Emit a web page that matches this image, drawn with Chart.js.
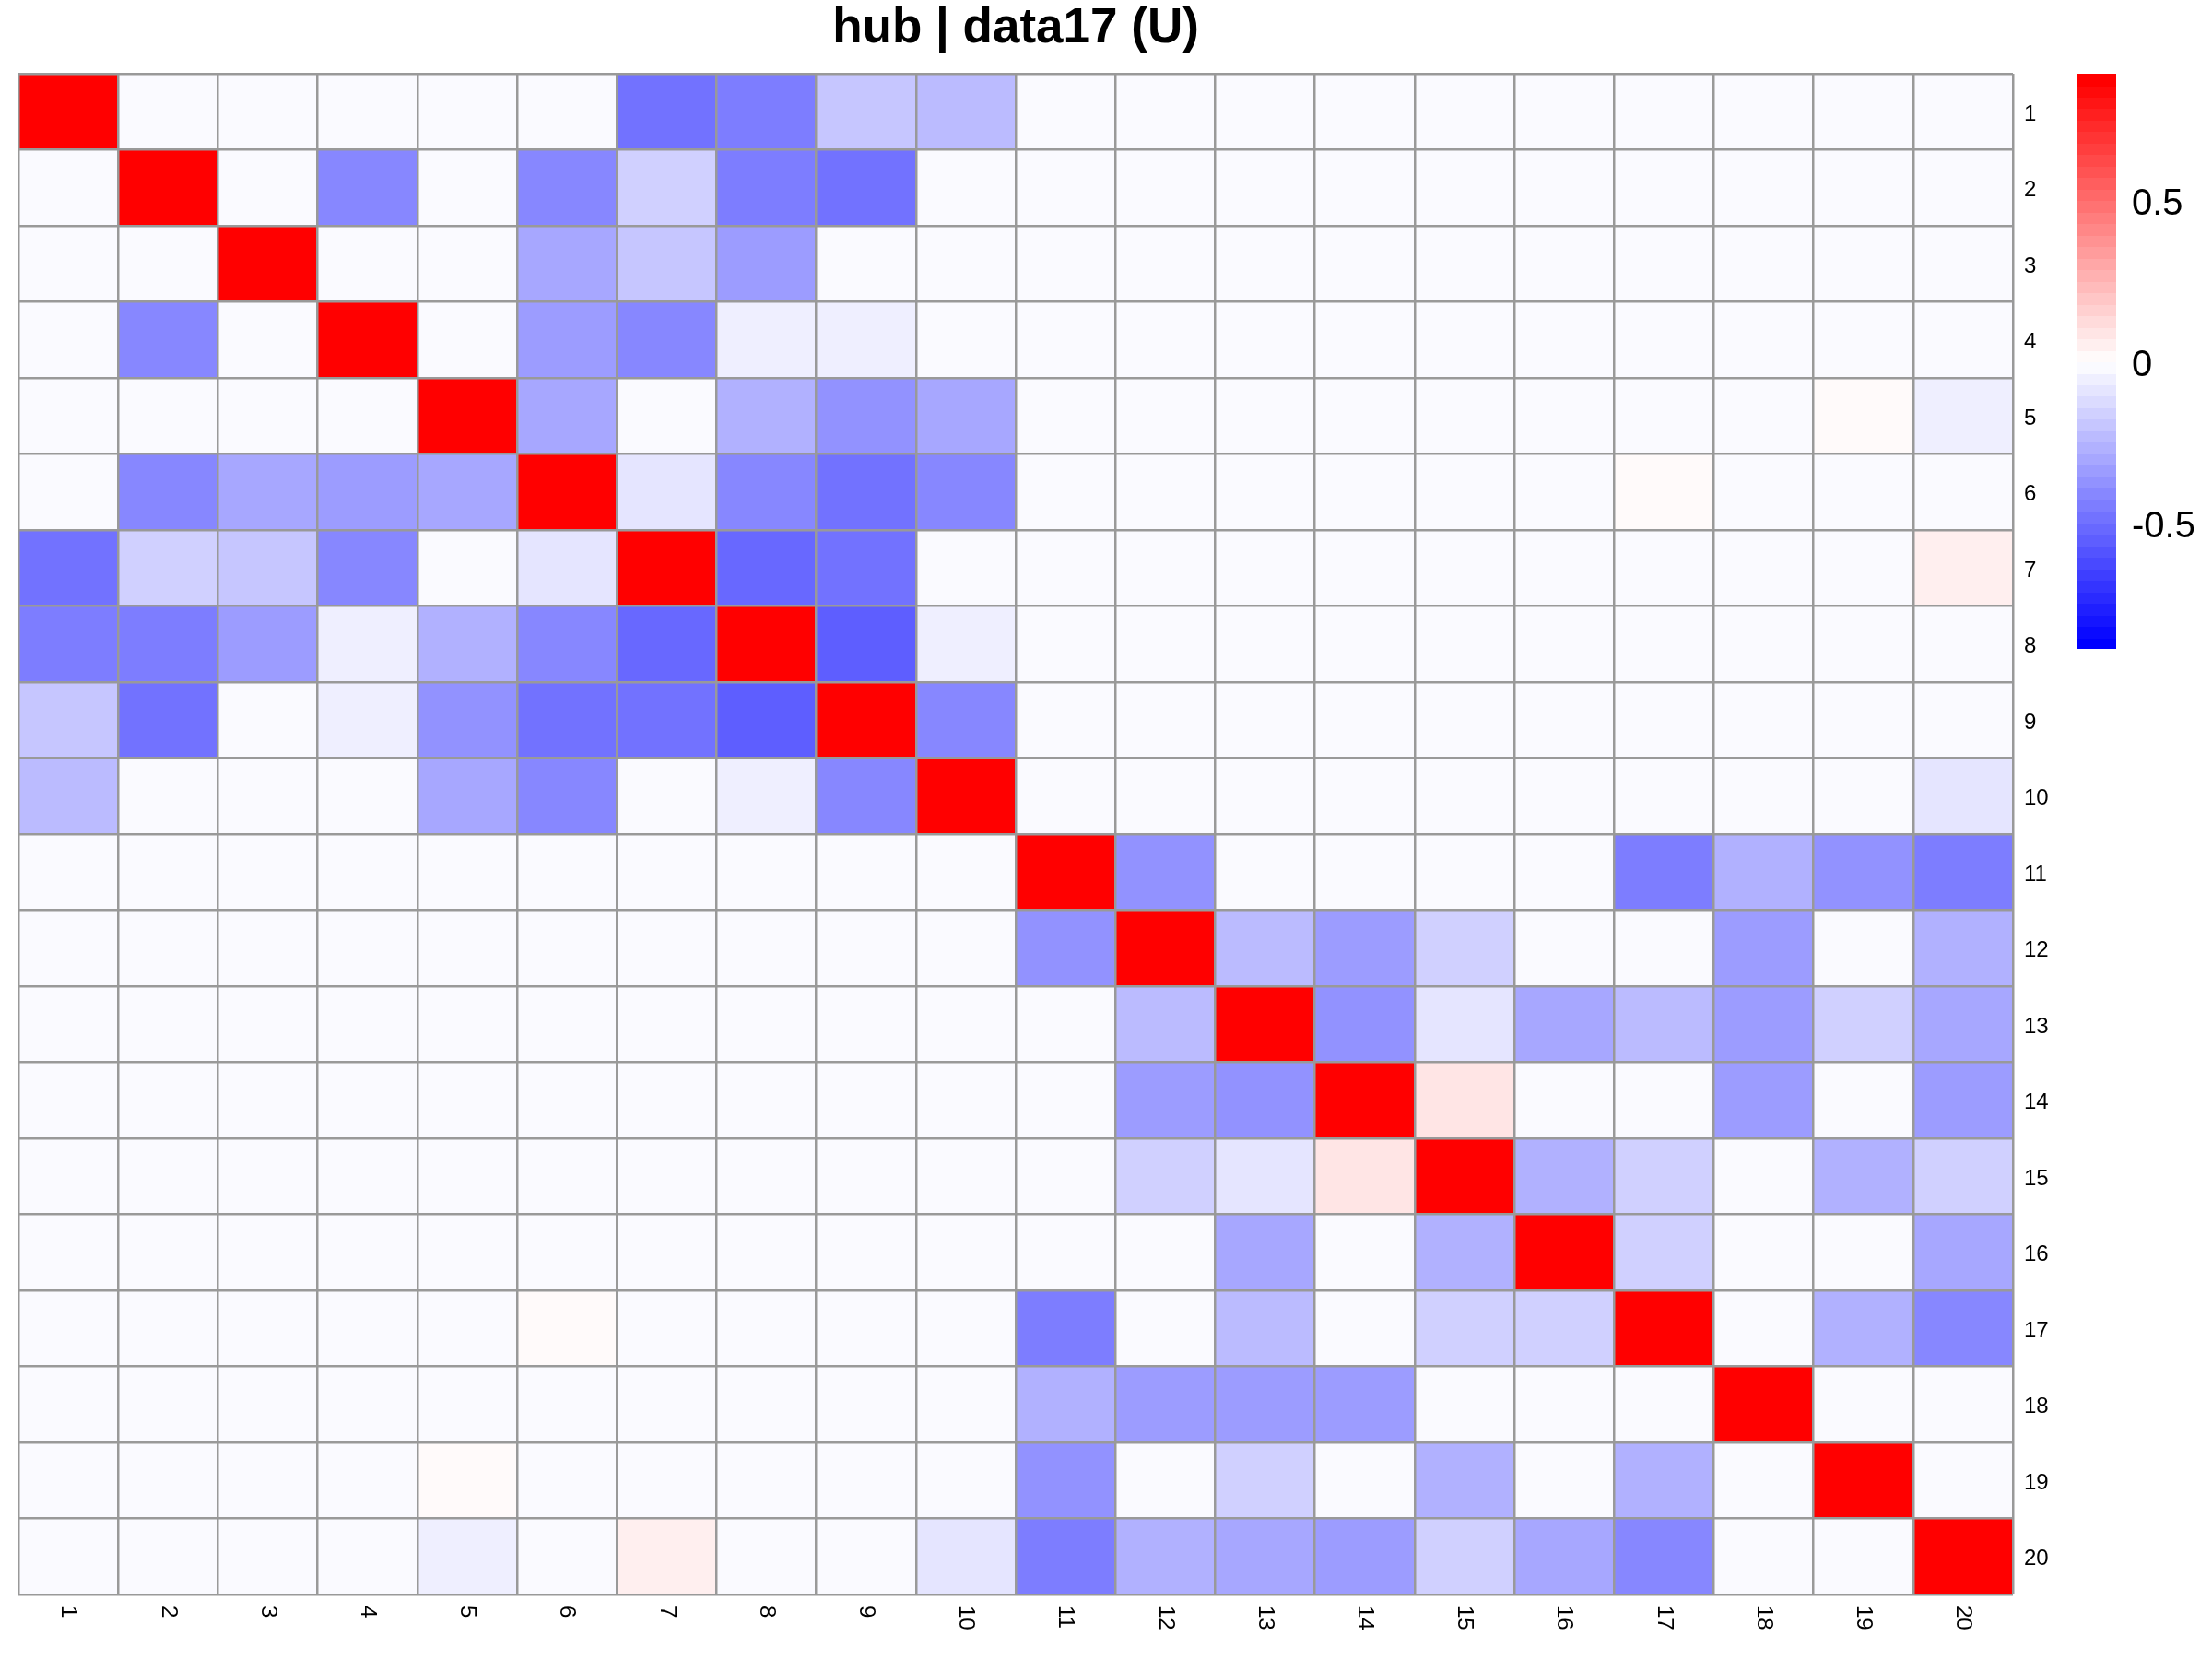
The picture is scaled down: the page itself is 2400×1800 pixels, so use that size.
<!DOCTYPE html>
<html>
<head>
<meta charset="utf-8">
<title>hub | data17 (U)</title>
<script src="https://cdn.jsdelivr.net/npm/chart.js@4.4.1/dist/chart.umd.min.js"></script>
<style>
  html, body { margin: 0; padding: 0; background: #ffffff; }
  #c { display: block; }
</style>
</head>
<body>
<canvas id="c" width="2400" height="1800"></canvas>
<script>
// ---------------- data ----------------
const chartTitle = 'hub | data17 (U)';
const rowLabels = ['1','2','3','4','5','6','7','8','9','10','11','12','13','14','15','16','17','18','19','20'];
const colLabels = ['1','2','3','4','5','6','7','8','9','10','11','12','13','14','15','16','17','18','19','20'];

const r01 = [ 0.89, 0, 0, 0, 0, 0, -0.48, -0.45, -0.20, -0.23, 0, 0, 0, 0, 0, 0, 0, 0, 0, 0];
const r02 = [ 0, 0.89, 0, -0.41, 0, -0.41, -0.16, -0.45, -0.48, 0, 0, 0, 0, 0, 0, 0, 0, 0, 0, 0];
const r03 = [ 0, 0, 0.89, 0, 0, -0.30, -0.20, -0.34, 0, 0, 0, 0, 0, 0, 0, 0, 0, 0, 0, 0];
const r04 = [ 0, -0.41, 0, 0.89, 0, -0.34, -0.41, -0.05, -0.05, 0, 0, 0, 0, 0, 0, 0, 0, 0, 0, 0];
const r05 = [ 0, 0, 0, 0, 0.89, -0.30, 0, -0.27, -0.37, -0.30, 0, 0, 0, 0, 0, 0, 0, 0, 0.02, -0.05];
const r06 = [ 0, -0.41, -0.30, -0.34, -0.30, 0.89, -0.09, -0.41, -0.48, -0.41, 0, 0, 0, 0, 0, 0, 0.02, 0, 0, 0];
const r07 = [-0.48, -0.16, -0.20, -0.41, 0, -0.09, 0.89, -0.52, -0.48, 0, 0, 0, 0, 0, 0, 0, 0, 0, 0, 0.05];
const r08 = [-0.45, -0.45, -0.34, -0.05, -0.27, -0.41, -0.52, 0.89, -0.55, -0.05, 0, 0, 0, 0, 0, 0, 0, 0, 0, 0];
const r09 = [-0.20, -0.48, 0, -0.05, -0.37, -0.48, -0.48, -0.55, 0.89, -0.41, 0, 0, 0, 0, 0, 0, 0, 0, 0, 0];
const r10 = [-0.23, 0, 0, 0, -0.30, -0.41, 0, -0.05, -0.41, 0.89, 0, 0, 0, 0, 0, 0, 0, 0, 0, -0.09];
const r11 = [ 0, 0, 0, 0, 0, 0, 0, 0, 0, 0, 0.89, -0.37, 0, 0, 0, 0, -0.45, -0.27, -0.37, -0.45];
const r12 = [ 0, 0, 0, 0, 0, 0, 0, 0, 0, 0, -0.37, 0.89, -0.23, -0.34, -0.16, 0, 0, -0.34, 0, -0.27];
const r13 = [ 0, 0, 0, 0, 0, 0, 0, 0, 0, 0, 0, -0.23, 0.89, -0.37, -0.09, -0.30, -0.23, -0.34, -0.16, -0.30];
const r14 = [ 0, 0, 0, 0, 0, 0, 0, 0, 0, 0, 0, -0.34, -0.37, 0.89, 0.09, 0, 0, -0.34, 0, -0.34];
const r15 = [ 0, 0, 0, 0, 0, 0, 0, 0, 0, 0, 0, -0.16, -0.09, 0.09, 0.89, -0.27, -0.16, 0, -0.27, -0.16];
const r16 = [ 0, 0, 0, 0, 0, 0, 0, 0, 0, 0, 0, 0, -0.30, 0, -0.27, 0.89, -0.16, 0, 0, -0.30];
const r17 = [ 0, 0, 0, 0, 0, 0.02, 0, 0, 0, 0, -0.45, 0, -0.23, 0, -0.16, -0.16, 0.89, 0, -0.27, -0.41];
const r18 = [ 0, 0, 0, 0, 0, 0, 0, 0, 0, 0, -0.27, -0.34, -0.34, -0.34, 0, 0, 0, 0.89, 0, 0];
const r19 = [ 0, 0, 0, 0, 0.02, 0, 0, 0, 0, 0, -0.37, 0, -0.16, 0, -0.27, 0, -0.27, 0, 0.89, 0];
const r20 = [ 0, 0, 0, 0, -0.05, 0, 0.05, 0, 0, -0.09, -0.45, -0.27, -0.30, -0.34, -0.16, -0.30, -0.41, 0, 0, 0.89];

const matrixRows = [r01, r02, r03, r04, r05, r06, r07, r08, r09, r10,
                    r11, r12, r13, r14, r15, r16, r17, r18, r19, r20];

const legendMin = -0.89;
const legendMax = 0.89;
const legendTicks = [0.5, 0, -0.5];
const nColors = 50;

// ---------------- colour scale (blue - white - red, binned) ----------------
const FONT = '"Liberation Sans", Arial, Helvetica, sans-serif';
const palette = [];
for (let i = 0; i < nColors; i++) {
  const t = i / (nColors - 1);
  let r, g, b;
  if (t <= 0.5) { const f = t * 2; r = Math.round(255 * f); g = r; b = 255; }
  else { const f = (t - 0.5) * 2; r = 255; g = Math.round(255 * (1 - f)); b = g; }
  palette.push(`rgb(${r},${g},${b})`);
}
const binWidth = (legendMax - legendMin) / nColors;
function colorFor(v) {
  let k = Math.ceil((v - legendMin) / binWidth - 1e-9);
  k = Math.max(1, Math.min(nColors, k));
  return palette[k - 1];
}

// ---------------- datasets: one stacked bar segment per cell ----------------
const datasets = colLabels.map((c, j) => ({
  label: c,
  data: matrixRows.map(() => 1),
  backgroundColor: matrixRows.map(row => colorFor(row[j])),
  borderWidth: 0,
  barPercentage: 1,
  categoryPercentage: 1
}));

// ---------------- extra drawing: column labels and colour key ----------------
const extrasPlugin = {
  id: 'extras',
  afterDraw(chart) {
    const ctx = chart.ctx;
    const area = chart.chartArea;
    const xs = chart.scales.x;
    // column labels, rotated (reading top to bottom)
    ctx.save();
    ctx.fillStyle = '#000000';
    ctx.font = `24px ${FONT}`;
    ctx.textAlign = 'left';
    ctx.textBaseline = 'middle';
    colLabels.forEach((lab, j) => {
      const x = xs.getPixelForValue(j + 0.5);
      ctx.save();
      ctx.translate(x, area.bottom + 12);
      ctx.rotate(Math.PI / 2);
      ctx.fillText(lab, 0, 0);
      ctx.restore();
    });
    ctx.restore();

    // colour key
    const kx = 2254, kw = 42, ktop = area.top, kh = 624;
    const stepH = kh / nColors;
    ctx.save();
    for (let i = 0; i < nColors; i++) {
      const yTop = ktop + kh - (i + 1) * stepH;
      ctx.fillStyle = palette[i];
      ctx.fillRect(kx, Math.floor(yTop), kw, Math.ceil(stepH) + 1);
    }
    ctx.fillStyle = palette[nColors - 1];
    ctx.fillRect(kx, ktop, kw, Math.ceil(stepH));
    ctx.fillStyle = '#ffffff';
    ctx.fillRect(kx, ktop + kh, kw, 4);
    ctx.fillStyle = '#000000';
    ctx.font = `40px ${FONT}`;
    ctx.textAlign = 'left';
    ctx.textBaseline = 'middle';
    legendTicks.forEach(v => {
      const y = ktop + (legendMax - v) / (legendMax - legendMin) * kh + 5;
      ctx.fillText(String(v), kx + kw + 17, y);
    });
    ctx.restore();
  }
};

new Chart(document.getElementById('c'), {
  type: 'bar',
  data: { labels: rowLabels, datasets },
  options: {
    indexAxis: 'y',
    responsive: false,
    animation: false,
    devicePixelRatio: 1,
    layout: { padding: { left: 20, top: 0, right: 0, bottom: 70 } },
    plugins: {
      legend: { display: false },
      tooltip: { enabled: false },
      title: {
        display: true,
        text: chartTitle,
        fullSize: false,
        color: '#000000',
        font: { family: FONT, size: 53, weight: 'bold', lineHeight: 1.2 },
        padding: { top: 0, bottom: 16.4 }
      }
    },
    scales: {
      x: {
        type: 'linear',
        stacked: true,
        min: 0,
        max: colLabels.length,
        ticks: { display: false, stepSize: 1 },
        grid: { color: '#999999', lineWidth: 2.5, drawTicks: false, z: 1 },
        border: { display: false },
        afterFit: s => { s.height = 0; }
      },
      y: {
        type: 'category',
        stacked: true,
        position: 'right',
        grid: { color: '#999999', lineWidth: 2.5, offset: true, drawTicks: false, z: 1 },
        border: { display: false },
        ticks: { color: '#000000', font: { family: FONT, size: 24 }, padding: 12, crossAlign: 'near', labelOffset: 3 },
        afterFit: s => { s.width = 216; }
      }
    }
  },
  plugins: [extrasPlugin]
});
</script>
</body>
</html>
